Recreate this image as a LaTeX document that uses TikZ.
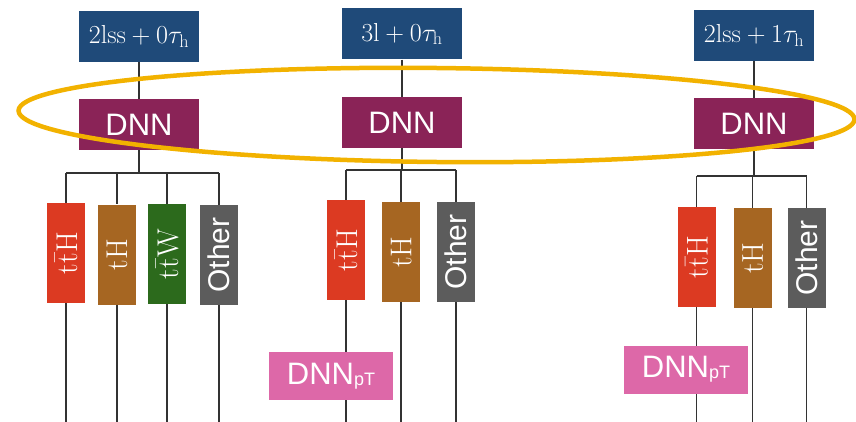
\RequirePackage{fix-cm}
\documentclass[tikz,border=0pt]{standalone}
\usepackage[no-math]{fontspec}
\newfontfamily\sansf{Liberation Sans}
\definecolor{chanblue}{HTML}{1F4A79}
\definecolor{dnnred}{HTML}{8A2357}
\definecolor{tthred}{HTML}{DC3A22}
\definecolor{thbrown}{HTML}{A66622}
\definecolor{ttwgreen}{HTML}{2C6A1C}
\definecolor{othgray}{HTML}{5C5C5C}
\definecolor{ptpink}{HTML}{DD68A8}
\definecolor{ellcol}{HTML}{F2B200}
\definecolor{linecol}{HTML}{333333}
\tikzset{
  chan/.style={fill=chanblue, text=white, minimum width=120pt, minimum height=51pt, inner sep=0pt, font=\fontsize{26}{31}\selectfont},
  dnn/.style={fill=dnnred, text=white, minimum width=120pt, minimum height=51pt, inner sep=0pt, font=\sansf\fontsize{31}{36}\selectfont},
  cat/.style={text=white, minimum width=100pt, minimum height=38pt, inner sep=0pt, rotate=90, font=\fontsize{30}{36}\selectfont},
  catsans/.style={cat, font=\sansf\fontsize{30}{36}\selectfont},
  ptbox/.style={fill=ptpink, text=white, minimum width=124pt, minimum height=48pt, inner sep=0pt, font=\sansf\fontsize{31}{36}\selectfont},
  conn/.style={draw=linecol, line width=1.4pt},
}
\newcommand{\dnnpt}{DNN\raisebox{-1pt}{\fontsize{18}{18}\selectfont pT}}
\begin{document}
\begin{tikzpicture}[x=1pt,y=-1pt]
\useasboundingbox (0,0) rectangle (856,422);
\coordinate (bot) at (0,422);
% ---------- left group
\node[chan] (t1) at (139,36.5) {$2\mathrm{lss}+0\tau_{\mathrm{h}}$};
\node[dnn] (d1) at (139,124.5) {DNN};
\coordinate (b1) at (139,173);
\node[cat, fill=tthred] (c1a) at (66,253) {$\mathrm{t\bar{t}H}$};
\node[cat, fill=thbrown] (c1b) at (117,254.5) {$\mathrm{tH}$};
\node[cat, fill=ttwgreen] (c1c) at (167,254) {$\mathrm{t\bar{t}W}$};
\node[catsans, fill=othgray] (c1d) at (219,255) {Other};
% ---------- middle group
\node[chan] (t2) at (402,34) {$3\mathrm{l}+0\tau_{\mathrm{h}}$};
\node[dnn] (d2) at (402,122.5) {DNN};
\coordinate (b2) at (402,170);
\node[cat, fill=tthred] (c2a) at (346,250) {$\mathrm{t\bar{t}H}$};
\node[cat, fill=thbrown] (c2b) at (401,252) {$\mathrm{tH}$};
\node[catsans, fill=othgray] (c2c) at (456,252) {Other};
% ---------- right group
\node[chan] (t3) at (754,35.5) {$2\mathrm{lss}+1\tau_{\mathrm{h}}$};
\node[dnn] (d3) at (754,124) {DNN};
\coordinate (b3) at (754,176);
\node[cat, fill=tthred] (c3a) at (696.5,257) {$\mathrm{t\bar{t}H}$};
\node[cat, fill=thbrown] (c3b) at (752.5,258) {$\mathrm{tH}$};
\node[catsans, fill=othgray] (c3c) at (806.5,258) {Other};
% ---------- connectors
\draw[conn] (t1) -- (d1);
\draw[conn] (d1) -- (b1);
\draw[conn] (c1a |- b1) -- (c1d |- b1);
\foreach \c in {c1a,c1b,c1c,c1d} {
  \draw[conn] (\c |- b1) -- (\c.east);
  \draw[conn] (\c.west) -- (\c |- bot);
}
\draw[conn] (t2) -- (d2);
\draw[conn] (d2) -- (b2);
\draw[conn] (c2a |- b2) -- (c2c |- b2);
\foreach \c in {c2a,c2b,c2c} {
  \draw[conn] (\c |- b2) -- (\c.east);
  \draw[conn] (\c.west) -- (\c |- bot);
}
\draw[conn] (t3) -- (d3);
\draw[conn] (d3) -- (b3);
\draw[conn] (c3a |- b3) -- (c3c |- b3);
\foreach \c in {c3a,c3b,c3c} {
  \draw[conn] (\c |- b3) -- (\c.east);
  \draw[conn] (\c.west) -- (\c |- bot);
}
% DNN_pT boxes on top of lines
\node[ptbox] (p2) at (331,376) {\dnnpt};
\node[ptbox] (p3) at (686,369.5) {\dnnpt};
% ellipse
\draw[ellcol, line width=4.5pt, rotate around={-0.6:(436.5,115)}] (436.5,115) ellipse [x radius=418, y radius=47];
\end{tikzpicture}
\end{document}
